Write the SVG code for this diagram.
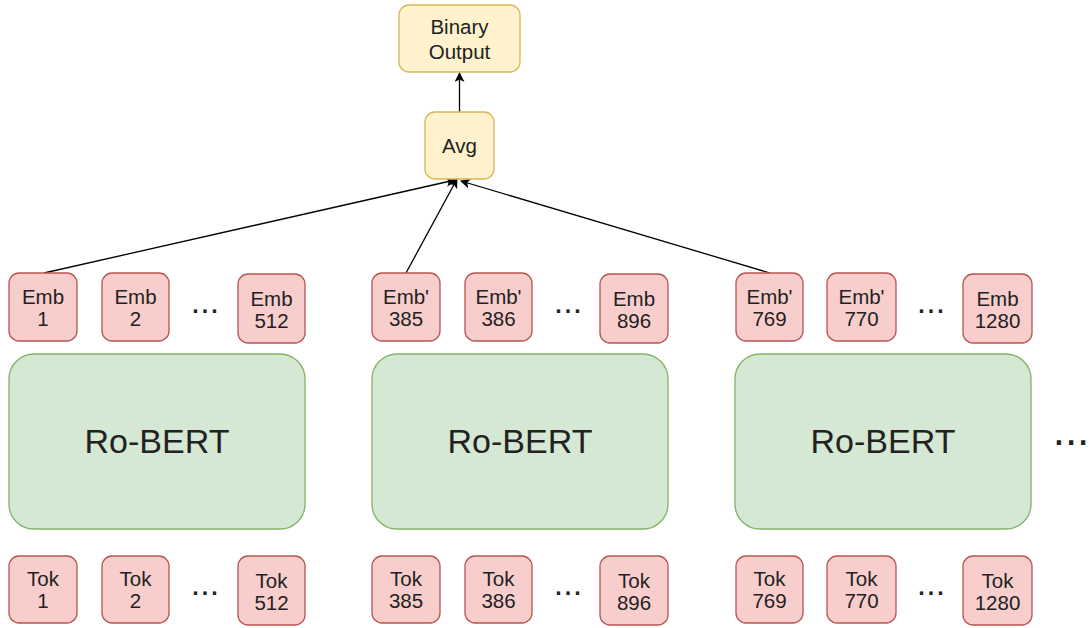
<svg xmlns="http://www.w3.org/2000/svg" width="1090" height="628" viewBox="0 0 1090 628">
<style>
.y{fill:#fff2cc;stroke:#d6b656;stroke-width:1.3}
.r{fill:#f8cecc;stroke:#b85450;stroke-width:1.3}
.g{fill:#d5e8d4;stroke:#82b366;stroke-width:1.3}
text{font-family:"Liberation Sans",Arial,sans-serif;fill:#222;text-anchor:middle}
.s{font-size:20.5px}
.b{font-size:34px}
.d{font-size:34px}
.c{stroke:#000;stroke-width:1.3;fill:none;marker-end:url(#a)}
</style>
<defs>
<marker id="a" viewBox="0 0 10 10" refX="9" refY="5" markerWidth="10" markerHeight="10" markerUnits="userSpaceOnUse" orient="auto">
<path d="M0,0 L10,5 L0,10 L2.5,5 Z" fill="#000"/>
</marker>
</defs>
<g id="connectors">
<path class="c" d="M459.5,112 L459.5,73"/>
<path class="c" d="M44,273 L455,180"/>
<path class="c" d="M406,273 L457,179"/>
<path class="c" d="M770,273 L461,181"/>
</g>
<g id="binary"><rect class="y" x="399" y="5" width="121" height="67" rx="10"/><text class="s" x="459.5" y="34">Binary</text><text class="s" x="459.5" y="59">Output</text></g>
<g id="avg"><rect class="y" x="425" y="112" width="69" height="67" rx="10"/><text class="s" x="459.5" y="153">Avg</text></g>

<g id="emb1"><rect class="r" x="9" y="273" width="68" height="68" rx="10"/><text class="s" x="43" y="304">Emb</text><text class="s" x="43" y="325.5">1</text></g>
<g id="emb2"><rect class="r" x="102" y="273" width="67" height="68" rx="10"/><text class="s" x="135.5" y="304">Emb</text><text class="s" x="135.5" y="325.5">2</text></g>
<text class="d" x="205" y="313">...</text>
<g id="emb512"><rect class="r" x="238" y="274" width="67" height="69" rx="10"/><text class="s" x="271.5" y="306">Emb</text><text class="s" x="271.5" y="327.5">512</text></g>

<g id="emb385"><rect class="r" x="372" y="273" width="68" height="68" rx="10"/><text class="s" x="406" y="304">Emb'</text><text class="s" x="406" y="325.5">385</text></g>
<g id="emb386"><rect class="r" x="465" y="273" width="67" height="68" rx="10"/><text class="s" x="498.5" y="304">Emb'</text><text class="s" x="498.5" y="325.5">386</text></g>
<text class="d" x="568" y="313">...</text>
<g id="emb896"><rect class="r" x="600" y="274" width="68" height="69" rx="10"/><text class="s" x="634" y="306">Emb</text><text class="s" x="634" y="327.5">896</text></g>

<g id="emb769"><rect class="r" x="736" y="273" width="67" height="68" rx="10"/><text class="s" x="769.5" y="304">Emb'</text><text class="s" x="769.5" y="325.5">769</text></g>
<g id="emb770"><rect class="r" x="827" y="273" width="69" height="68" rx="10"/><text class="s" x="861.5" y="304">Emb'</text><text class="s" x="861.5" y="325.5">770</text></g>
<text class="d" x="931" y="313">...</text>
<g id="emb1280"><rect class="r" x="963" y="274" width="69" height="69" rx="10"/><text class="s" x="997.5" y="306">Emb</text><text class="s" x="997.5" y="327.5">1280</text></g>

<g id="bert1"><rect class="g" x="9" y="354" width="296" height="175" rx="25"/><text class="b" x="157" y="453">Ro-BERT</text></g>
<g id="bert2"><rect class="g" x="372" y="354" width="296" height="175" rx="25"/><text class="b" x="520" y="453">Ro-BERT</text></g>
<g id="bert3"><rect class="g" x="735" y="354" width="296" height="175" rx="25"/><text class="b" x="883" y="453">Ro-BERT</text></g>
<text x="1071" y="445" style="font-size:44px">...</text>

<g id="tok1"><rect class="r" x="9" y="556" width="68" height="67" rx="10"/><text class="s" x="43" y="586">Tok</text><text class="s" x="43" y="607.5">1</text></g>
<g id="tok2"><rect class="r" x="102" y="556" width="67" height="67" rx="10"/><text class="s" x="135.5" y="586">Tok</text><text class="s" x="135.5" y="607.5">2</text></g>
<text class="d" x="205" y="595">...</text>
<g id="tok512"><rect class="r" x="238" y="556" width="67" height="69" rx="10"/><text class="s" x="271.5" y="588">Tok</text><text class="s" x="271.5" y="609.5">512</text></g>

<g id="tok385"><rect class="r" x="372" y="556" width="68" height="67" rx="10"/><text class="s" x="406" y="586">Tok</text><text class="s" x="406" y="607.5">385</text></g>
<g id="tok386"><rect class="r" x="465" y="556" width="67" height="67" rx="10"/><text class="s" x="498.5" y="586">Tok</text><text class="s" x="498.5" y="607.5">386</text></g>
<text class="d" x="568" y="595">...</text>
<g id="tok896"><rect class="r" x="600" y="556" width="68" height="69" rx="10"/><text class="s" x="634" y="588">Tok</text><text class="s" x="634" y="609.5">896</text></g>

<g id="tok769"><rect class="r" x="736" y="556" width="67" height="67" rx="10"/><text class="s" x="769.5" y="586">Tok</text><text class="s" x="769.5" y="607.5">769</text></g>
<g id="tok770"><rect class="r" x="827" y="556" width="69" height="67" rx="10"/><text class="s" x="861.5" y="586">Tok</text><text class="s" x="861.5" y="607.5">770</text></g>
<text class="d" x="931" y="595">...</text>
<g id="tok1280"><rect class="r" x="963" y="556" width="69" height="69" rx="10"/><text class="s" x="997.5" y="588">Tok</text><text class="s" x="997.5" y="609.5">1280</text></g>
</svg>
